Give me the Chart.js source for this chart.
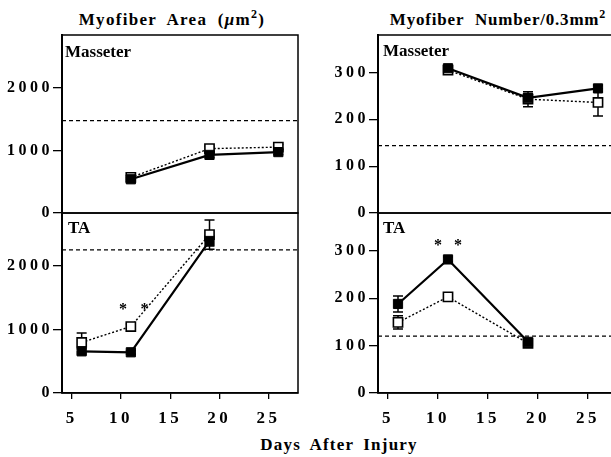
<!DOCTYPE html>
<html>
<head>
<meta charset="utf-8">
<script src="https://cdn.jsdelivr.net/npm/chart.js@4.4.0/dist/chart.umd.min.js"></script>
<style>
  html, body { margin: 0; padding: 0; background: #fff; width: 611px; height: 457px; overflow: hidden; }
  canvas { position: absolute; }
  .txt { position: absolute; font-family: 'Liberation Serif', serif; font-weight: bold; color: #000; white-space: nowrap; line-height: 1; transform: translateX(-50%); }
  .sup { font-size: 12px; position: relative; top: -7px; }
</style>
</head>
<body>
<div class="txt" style="left:172px; top:11px; font-size:17px; letter-spacing:1.3px; word-spacing:5px;">Myofiber Area (<i>μ</i>m<span class="sup">2</span>)</div>
<div class="txt" style="left:498px; top:11px; font-size:17px; letter-spacing:0.8px; word-spacing:6px;">Myofiber Number/0.3mm<span class="sup">2</span></div>
<div class="txt" style="left:339px; top:436px; font-size:17px; letter-spacing:1.2px; word-spacing:4px;">Days After Injury</div>

<canvas id="areaMas" width="310" height="205" style="left:0; top:25px;"></canvas>
<canvas id="areaTa" width="310" height="240" style="left:0; top:203px;"></canvas>
<canvas id="numMas" width="320" height="205" style="left:310px; top:25px;"></canvas>
<canvas id="numTa" width="320" height="240" style="left:310px; top:203px;"></canvas>

<script>
const xTicks = [5, 10, 15, 20, 25];
const areaTicks = [0, 1000, 2000];
const numberTicks = [0, 100, 200, 300];

// Myofiber area - masseter
const areaMasDays = [11, 19, 26];
const areaMasFilled = [540, 930, 975];
const areaMasOpen = [570, 1030, 1055];
const areaMasFilledErr = [30, 40, 40];
const areaMasOpenErr = [30, 40, 40];
const areaMasRef = 1480;

// Myofiber area - TA
const areaTaDays = [6, 11, 19];
const areaTaFilled = [655, 640, 2390];
const areaTaOpen = [795, 1045, 2490];
const areaTaFilledErr = [40, 30, 80];
const areaTaOpenErr = [150, 40, 230];
const areaTaRef = 2250;
const areaTaStarDays = [10.2, 12.4];
const areaTaStarVals = [1360, 1360];

// Myofiber number - masseter
const numMasDays = [11, 19, 26];
const numMasFilled = [309, 246, 266];
const numMasOpen = [305, 243, 236];
const numMasFilledErr = [5, 8, 6];
const numMasOpenErr = [6, 16, 29];
const numMasRef = 144;

// Myofiber number - TA
const numTaDays = [6, 11, 19];
const numTaFilled = [188, 282, 108];
const numTaOpen = [149, 203, 105];
const numTaFilledErr = [17, 5, 5];
const numTaOpenErr = [14, 6, 5];
const numTaRef = 120;
const numTaStarDays = [10, 12];
const numTaStarVals = [318, 318];

Chart.defaults.font.family = "'Liberation Serif', serif";
Chart.defaults.font.weight = 'bold';
Chart.defaults.color = '#000';

function decor(p) {
  return {
    id: 'decor',
    beforeDraw(chart) {
      chart.ctx.letterSpacing = '3.5px';
    },
    beforeDatasetsDraw(chart) {
      const { ctx, chartArea: a, scales: { x, y } } = chart;
      ctx.save();
      // control level
      ctx.strokeStyle = '#000';
      ctx.lineWidth = 1.3;
      ctx.setLineDash([4, 3]);
      const ry = y.getPixelForValue(p.ref);
      ctx.beginPath();
      ctx.moveTo(a.left, ry);
      ctx.lineTo(a.right, ry);
      ctx.stroke();
      ctx.setLineDash([]);
      // error bars
      ctx.lineWidth = 1.5;
      [[p.filled, p.filledErr], [p.open, p.openErr]].forEach(([vals, errs]) => {
        vals.forEach((v, i) => {
          const px = x.getPixelForValue(p.days[i]);
          const hi = y.getPixelForValue(v + errs[i]);
          const lo = y.getPixelForValue(v - errs[i]);
          ctx.beginPath();
          ctx.moveTo(px, hi); ctx.lineTo(px, lo);
          ctx.moveTo(px - 5, hi); ctx.lineTo(px + 5, hi);
          ctx.moveTo(px - 5, lo); ctx.lineTo(px + 5, lo);
          ctx.stroke();
        });
      });
      ctx.restore();
    },
    afterDraw(chart) {
      const { ctx, chartArea: a, scales: { x, y } } = chart;
      ctx.save();
      ctx.letterSpacing = '0px';
      ctx.strokeStyle = '#000';
      ctx.lineWidth = 1.5;
      ctx.strokeRect(a.left, a.top, a.right - a.left, a.bottom - a.top);
      ctx.fillStyle = '#000';
      ctx.font = "bold 17px 'Liberation Serif', serif";
      ctx.textAlign = 'left';
      ctx.textBaseline = 'alphabetic';
      ctx.fillText(p.label, a.left + p.labelDx, a.top + p.labelDy);
      ctx.font = "bold 16px 'Liberation Serif', serif";
      ctx.textAlign = 'center';
      (p.starDays || []).forEach((d, i) => {
        ctx.fillText('*', x.getPixelForValue(d), y.getPixelForValue(p.starVals[i]) + 8);
      });
      ctx.restore();
    }
  };
}

function panel(id, p) {
  const pts = (vals) => vals.map((v, i) => ({ x: p.days[i], y: v }));
  new Chart(document.getElementById(id), {
    type: 'line',
    data: {
      datasets: [
        { data: pts(p.filled), borderColor: '#000', backgroundColor: '#000', borderWidth: 2.2,
          pointStyle: 'rect', pointRadius: 6.5, pointBorderWidth: 1, pointBackgroundColor: '#000' },
        { data: pts(p.open), borderColor: '#000', backgroundColor: '#fff', borderWidth: 1.4, borderDash: [2, 2],
          pointStyle: 'rect', pointRadius: 6.5, pointBorderWidth: 1.6, pointBackgroundColor: '#fff' }
      ]
    },
    options: {
      responsive: false,
      animation: false,
      layout: { padding: { top: 10, right: 12, bottom: p.showX ? 20 : 17, left: 0 } },
      plugins: { legend: { display: false }, tooltip: { enabled: false } },
      scales: {
        x: {
          type: 'linear', min: 4, max: 28, display: p.showX,
          afterBuildTicks: (s) => { s.ticks = xTicks.map((v) => ({ value: v })); },
          afterFit: (s) => { s.height = p.showX ? 30 : 0; },
          grid: { drawOnChartArea: false, tickLength: 6, color: '#000', lineWidth: 1.3 },
          border: { color: '#000', width: 1.5 },
          ticks: { font: { size: 17, weight: 'bold' }, padding: 9, maxRotation: 0, callback: (v) => String(v) }
        },
        y: {
          type: 'linear', min: 0, max: p.yMax,
          afterBuildTicks: (s) => { s.ticks = p.yTicks.map((v) => ({ value: v })); },
          afterFit: (s) => { s.width = p.yWidth; },
          grid: { drawOnChartArea: false, tickLength: 9, color: '#000', lineWidth: 1.3 },
          border: { color: '#000', width: 2 },
          ticks: { font: { size: 16, weight: 'bold' }, padding: 0, callback: (v) => String(v) }
        }
      }
    },
    plugins: [decor(p)]
  });
}

panel('areaMas', { days: areaMasDays, filled: areaMasFilled, open: areaMasOpen,
  filledErr: areaMasFilledErr, openErr: areaMasOpenErr, ref: areaMasRef,
  yMax: 2850, yTicks: areaTicks, yWidth: 62, showX: false, label: 'Masseter', labelDx: 3, labelDy: 22 });
panel('areaTa', { days: areaTaDays, filled: areaTaFilled, open: areaTaOpen,
  filledErr: areaTaFilledErr, openErr: areaTaOpenErr, ref: areaTaRef,
  starDays: areaTaStarDays, starVals: areaTaStarVals,
  yMax: 2830, yTicks: areaTicks, yWidth: 62, showX: true, label: 'TA', labelDx: 6, labelDy: 20 });
panel('numMas', { days: numMasDays, filled: numMasFilled, open: numMasOpen,
  filledErr: numMasFilledErr, openErr: numMasOpenErr, ref: numMasRef,
  yMax: 380, yTicks: numberTicks, yWidth: 68, showX: false, label: 'Masseter', labelDx: 5, labelDy: 21 });
panel('numTa', { days: numTaDays, filled: numTaFilled, open: numTaOpen,
  filledErr: numTaFilledErr, openErr: numTaOpenErr, ref: numTaRef,
  starDays: numTaStarDays, starVals: numTaStarVals,
  yMax: 380, yTicks: numberTicks, yWidth: 68, showX: true, label: 'TA', labelDx: 5, labelDy: 20 });
</script>
</body>
</html>
